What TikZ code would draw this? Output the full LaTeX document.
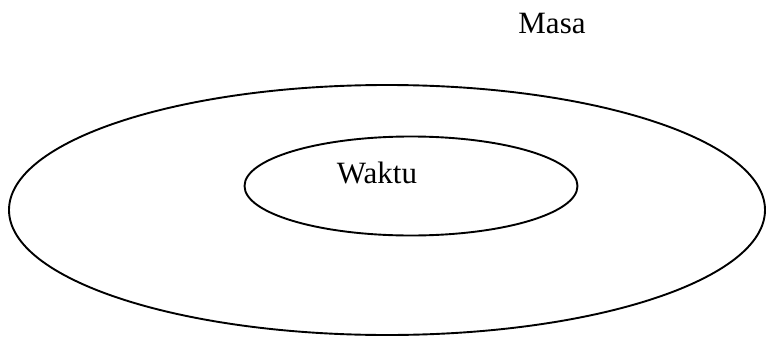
\documentclass[tikz,border=0pt]{standalone}
\usepackage{fontspec}
\setmainfont{Liberation Serif}
\usetikzlibrary{shapes.geometric}
\begin{document}
\begin{tikzpicture}[x=1pt,y=-1pt,
  ring/.style={draw=black,line width=1.9pt,ellipse,inner sep=0pt},
  lbl/.style={font=\fontsize{31}{34}\selectfont,inner sep=0pt,anchor=base}]
\useasboundingbox (0,0) rectangle (769,343);
\node[ring,minimum width=756pt,minimum height=250pt] (outer) at (387,210) {};
\node[ring,minimum width=333pt,minimum height=99pt] (inner) at (411,186) {};
\node[lbl] (masa) at (552,33) {Masa};
\node[lbl] (waktu) at (377,183) {Waktu};
\end{tikzpicture}
\end{document}
